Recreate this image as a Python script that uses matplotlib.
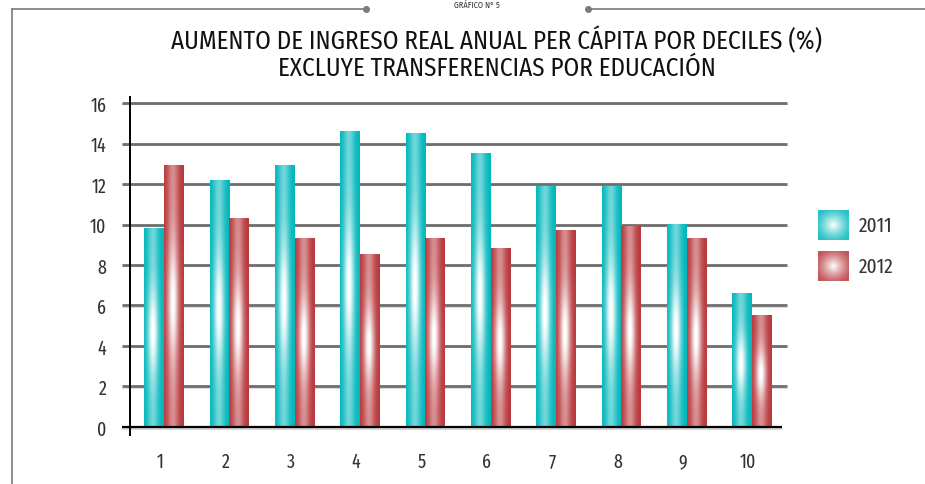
import numpy as np
import matplotlib
matplotlib.use("Agg")
import matplotlib.pyplot as plt
from matplotlib.colors import to_rgb

deciles = ["1", "2", "3", "4", "5", "6", "7", "8", "9", "10"]
values_2011 = [9.8, 12.2, 12.9, 14.6, 14.5, 13.5, 11.9, 11.9, 10.0, 6.6]
values_2012 = [12.9, 10.3, 9.3, 8.5, 9.3, 8.8, 9.7, 9.9, 9.3, 5.5]
series_labels = ["2011", "2012"]
yticks = [0, 2, 4, 6, 8, 10, 12, 14, 16]
title = "AUMENTO DE INGRESO REAL ANUAL PER CÁPITA POR DECILES (%)\nEXCLUYE TRANSFERENCIAS POR EDUCACIÓN"
header = "GRÁFICO N° 5"

TICK_FONT = ["Fira Sans Extra Condensed", "DejaVu Sans"]
TITLE_FONT = ["Fira Sans Condensed", "DejaVu Sans"]
plt.rcParams["font.family"] = TICK_FONT

teal = "#00b7bc"
red = "#b8373b"

W, H = 925, 485
fig = plt.figure(figsize=(W / 100, H / 100), dpi=100)

def fx(px):
    return px / W

def fy(py):
    return 1 - py / H

# frame decoration
frame_color = "#7a7a7a"
fig.add_artist(plt.Line2D([fx(12), fx(12)], [fy(10), 0], color=frame_color, lw=1.2, transform=fig.transFigure))
fig.add_artist(plt.Line2D([fx(12), fx(366)], [fy(10), fy(10)], color=frame_color, lw=1.2, transform=fig.transFigure))
fig.add_artist(plt.Line2D([fx(588), 1], [fy(10), fy(10)], color=frame_color, lw=1.2, transform=fig.transFigure))
fig.add_artist(plt.Line2D([fx(366), fx(588)], [fy(10), fy(10)], color=frame_color, lw=0,
                          marker="o", markersize=4, transform=fig.transFigure))
fig.text(fx(477), fy(0.5), header, ha="center", va="top", fontsize=6, color="#333333",
         family=TITLE_FONT)

# axes: y=0 at py=428, 16.3 at py=98, bottom -0.4 at 436
ax = fig.add_axes([fx(130), fy(436), fx(782) - fx(130), fy(98) - fy(436)])
ax.patch.set_alpha(0)

UNIT = 65.3
X_LEFT = 1 - 30 / UNIT
X_RIGHT = 10 + 34 / UNIT
x = np.arange(1, len(deciles) + 1)
bw = 0.30
shift = 0.06
xl, xr = X_LEFT - 8 / UNIT, X_RIGHT + 5 / UNIT

for t in yticks[1:]:
    ax.plot([xl, xr], [t, t], color="#6e6e6e", lw=2.0, clip_on=False, zorder=1, solid_capstyle="butt")
    ax.plot([xl, xr], [t - 0.07, t - 0.07], color="#dadada", lw=0.8, clip_on=False, zorder=0.9)

bars1 = ax.bar(x + shift - bw / 2, values_2011, width=bw, color=teal, zorder=2, linewidth=0)
bars2 = ax.bar(x + shift + bw / 2, values_2012, width=bw, color=red, zorder=2, linewidth=0)


def bar_gradient(base, n_u=40, n_v=120):
    u = np.linspace(0, 1, n_u)[None, :]
    v = np.linspace(0, 1, n_v)[:, None]  # 0 bottom ... 1 top
    h = np.exp(-((u - 0.45) / 0.28) ** 2)
    vert = 0.42 + 0.58 * np.exp(-((v - 0.48) / 0.22) ** 2)
    f = np.clip(h * vert * 1.03, 0, 1)
    b = np.array(to_rgb(base))
    return b[None, None, :] * (1 - f[..., None]) + f[..., None]


for bars, base in ((bars1, teal), (bars2, red)):
    img = bar_gradient(base)
    for p in bars:
        x0, w, hgt = p.get_x(), p.get_width(), p.get_height()
        ax.imshow(img, extent=[x0, x0 + w, 0, hgt], origin="lower", aspect="auto",
                  zorder=3, interpolation="bilinear")

ax.set_xlim(X_LEFT, X_RIGHT)
ax.set_ylim(-0.4, 16.3)

# zero line
ax.plot([xl, X_RIGHT], [0, 0], color="black", lw=1.6, clip_on=False, zorder=4, solid_capstyle="butt")
ax.plot([xl, X_RIGHT], [-0.12, -0.12], color="#cfcfcf", lw=1.2, clip_on=False, zorder=3.9)

for s in ("top", "right", "bottom"):
    ax.spines[s].set_visible(False)
ax.spines["left"].set_color("black")
ax.spines["left"].set_linewidth(1.4)
ax.spines["left"].set_zorder(5)

ax.set_yticks(yticks)
ax.set_yticklabels([str(t) for t in yticks])
ax.set_xticks(x)
ax.set_xticklabels(deciles)
ax.tick_params(axis="y", length=0, pad=17, labelsize=14, labelcolor="#333333")
ax.tick_params(axis="x", length=0, pad=12, labelsize=14, labelcolor="#333333")

fig.text(fx(497), fy(54), title, ha="center", va="center", fontsize=18, color="#111111",
         linespacing=1.05, family=TITLE_FONT, fontweight="normal")

# legend with gradient squares
def radial(base, n=40):
    yy, xx = np.mgrid[-1:1:n * 1j, -1:1:n * 1j]
    r = np.sqrt(xx ** 2 + yy ** 2)
    f = np.clip(1 - r / 1.25, 0, 1) ** 1.3
    f = 0.15 + 0.85 * f
    b = np.array(to_rgb(base))
    return b[None, None, :] * (1 - f[..., None]) + f[..., None]

for (lab, base, top) in ((series_labels[0], teal, 211), (series_labels[1], red, 252)):
    lax = fig.add_axes([fx(818), fy(top + 30), fx(849) - fx(818), fy(top) - fy(top + 30)])
    lax.imshow(radial(base), aspect="auto", interpolation="bilinear")
    lax.axis("off")
    fig.text(fx(859), fy(top + 15), lab, ha="left", va="center", fontsize=15, color="#333333")

fig.savefig("out.png", dpi=100)
